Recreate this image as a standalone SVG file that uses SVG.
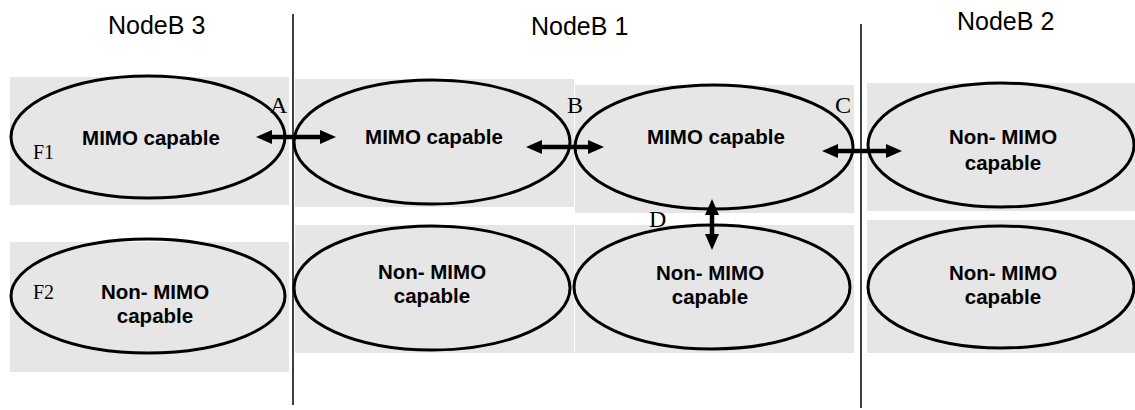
<svg xmlns="http://www.w3.org/2000/svg" width="1135" height="410" viewBox="0 0 1135 410">
  <style>
    .bg { fill: #e6e6e6; stroke: none; }
    .cell { fill: none; stroke: #000; stroke-width: 3; }
    .lbl { font-family: "Liberation Sans", Arial, sans-serif; font-weight: bold; font-size: 20.5px; fill: #000; text-anchor: middle; }
    .hdr { font-family: "Liberation Sans", Arial, sans-serif; font-size: 25px; fill: #000; }
    .ser { font-family: "Liberation Serif", "Times New Roman", serif; font-size: 24px; fill: #000; }
    .fr { font-family: "Liberation Serif", "Times New Roman", serif; font-size: 20px; fill: #000; }
    .div { stroke: #000; stroke-width: 1.5; }
    .conn { stroke: #000; stroke-width: 4.5; fill: none; marker-start: url(#ah); marker-end: url(#ah); }
  </style>
  <defs>
    <marker id="ah" viewBox="0 0 16 14" refX="6" refY="7" markerWidth="16" markerHeight="14" markerUnits="userSpaceOnUse" orient="auto-start-reverse">
      <path d="M0,0 L16,7 L0,14 z" fill="#000"/>
    </marker>
  </defs>

  <!-- background cells -->
  <g id="backgrounds">
    <rect class="bg" x="10" y="77" width="279" height="128"/>
    <rect class="bg" x="295" y="79" width="279" height="128"/>
    <rect class="bg" x="575" y="85" width="279" height="128"/>
    <rect class="bg" x="867" y="83" width="268" height="128"/>
    <rect class="bg" x="10" y="242" width="279" height="130"/>
    <rect class="bg" x="295" y="225" width="279" height="128"/>
    <rect class="bg" x="575" y="225" width="279" height="128"/>
    <rect class="bg" x="867" y="220" width="268" height="133"/>
  </g>

  <!-- dividers and headers -->
  <g id="dividers">
    <line class="div" x1="293" y1="14" x2="293" y2="405"/>
    <line class="div" x1="861" y1="24" x2="861" y2="408"/>
  </g>
  <g id="headers">
    <text class="hdr" x="108" y="34">NodeB 3</text>
    <text class="hdr" x="531" y="35">NodeB 1</text>
    <text class="hdr" x="957" y="30">NodeB 2</text>
    <text class="fr" x="33" y="159">F1</text>
    <text class="fr" x="33" y="299">F2</text>
  </g>

  <!-- nodes -->
  <g id="n3-f1">
    <ellipse class="cell" cx="148" cy="137" rx="137" ry="61"/>
    <text class="lbl" x="151" y="145">MIMO capable</text>
  </g>
  <g id="n1a-f1">
    <ellipse class="cell" cx="432" cy="142" rx="138" ry="62"/>
    <text class="lbl" x="434" y="144">MIMO capable</text>
  </g>
  <g id="n1b-f1">
    <ellipse class="cell" cx="714" cy="147" rx="139" ry="62"/>
    <text class="lbl" x="716" y="144">MIMO capable</text>
  </g>
  <g id="n2-f1">
    <ellipse class="cell" cx="1001" cy="145" rx="133" ry="62"/>
    <text class="lbl" x="1003" y="144">Non- MIMO</text>
    <text class="lbl" x="1003" y="170">capable</text>
  </g>
  <g id="n3-f2">
    <ellipse class="cell" cx="148" cy="296" rx="137" ry="57"/>
    <text class="lbl" x="155" y="299">Non- MIMO</text>
    <text class="lbl" x="155" y="323">capable</text>
  </g>
  <g id="n1a-f2">
    <ellipse class="cell" cx="432" cy="288" rx="138" ry="62"/>
    <text class="lbl" x="432" y="279">Non- MIMO</text>
    <text class="lbl" x="432" y="303">capable</text>
  </g>
  <g id="n1b-f2">
    <ellipse class="cell" cx="712" cy="287" rx="138" ry="62"/>
    <text class="lbl" x="710" y="280">Non- MIMO</text>
    <text class="lbl" x="710" y="304">capable</text>
  </g>
  <g id="n2-f2">
    <ellipse class="cell" cx="1001" cy="287" rx="133" ry="61"/>
    <text class="lbl" x="1003" y="280">Non- MIMO</text>
    <text class="lbl" x="1003" y="304">capable</text>
  </g>

  <!-- connectors -->
  <g id="connectors">
    <line class="conn" x1="266" y1="137" x2="326" y2="137"/>
    <line class="conn" x1="536" y1="147" x2="594" y2="147"/>
    <line class="conn" x1="832" y1="151" x2="892" y2="151"/>
    <line class="conn" x1="712" y1="209" x2="712" y2="240"/>
    <text class="ser" x="270" y="113">A</text>
    <text class="ser" x="567" y="113">B</text>
    <text class="ser" x="835" y="113">C</text>
    <text class="ser" x="649" y="227">D</text>
  </g>
</svg>
